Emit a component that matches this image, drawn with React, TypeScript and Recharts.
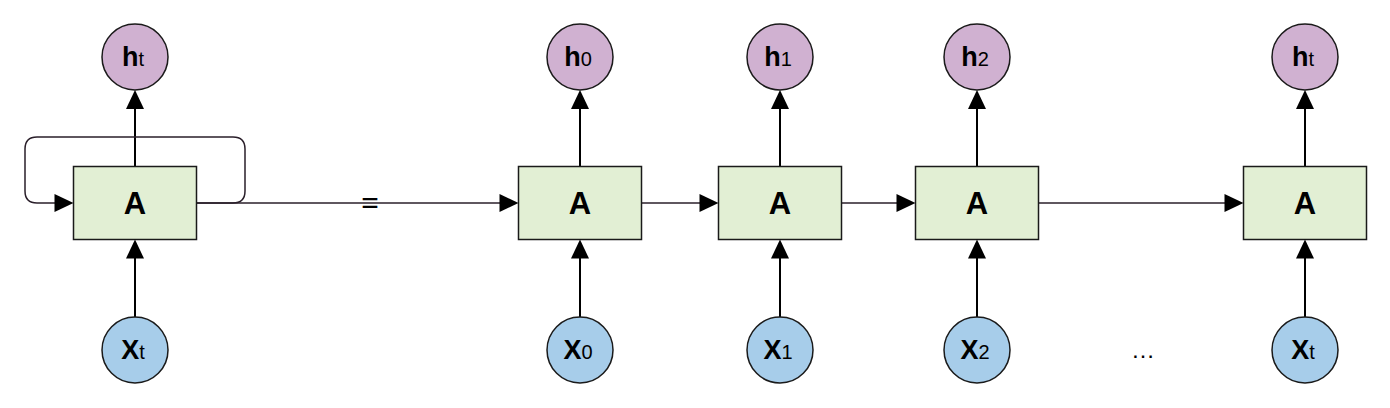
import React from "react";
import { ScatterChart, Scatter, XAxis, YAxis, ReferenceLine } from "recharts";

const cellX = [135, 580, 780, 977, 1305];
const cellSub = ["t", "0", "1", "2", "t"];
const rowH = 57;
const rowBox = 203;
const rowX = 350;
const boxW = 123;
const boxH = 73;
const R = 33;
const chain = [1, 2, 3, 4];
const FONT = "'Liberation Sans', Arial, sans-serif";

const boxes = cellX.map((x) => ({ x, y: rowBox }));
const hNodes = cellX.map((x, i) => ({ x, y: rowH, sub: cellSub[i] }));
const xNodes = cellX.map((x, i) => ({ x, y: rowX, sub: cellSub[i] }));
const upTips = cellX.flatMap((x) => [
  { x, y: rowH + R },
  { x, y: rowBox + boxH / 2 },
]);
const rightTips = [
  { x: cellX[0] - boxW / 2, y: rowBox },
  ...chain.map((i) => ({ x: cellX[i] - boxW / 2, y: rowBox })),
];
const loopAnchor = [{ x: cellX[0], y: rowBox }];
const eqMark = [{ x: 370, y: rowBox }];
const dots = [{ x: 1143, y: rowX }];

const Box = (p: any) => (
  <g>
    <rect x={p.cx - boxW / 2} y={p.cy - boxH / 2} width={boxW} height={boxH} fill="#e2efd4" stroke="#1a1a1a" strokeWidth={1.5} />
    <text x={p.cx} y={p.cy + 11} textAnchor="middle" fontFamily={FONT} fontWeight="bold" fontSize={31} fill="#000">A</text>
  </g>
);
const Node = (fill: string, letter: string) => (p: any) => (
  <g>
    <circle cx={p.cx} cy={p.cy} r={R} fill={fill} stroke="#1a1a1a" strokeWidth={1.5} />
    <text x={p.cx - 2} y={p.cy + 9} textAnchor="middle" fontFamily={FONT} fill="#000">
      <tspan fontWeight="bold" fontSize={27}>{letter}</tspan>
      <tspan fontSize={20}>{p.payload.sub}</tspan>
    </text>
  </g>
);
const UpTip = (p: any) => (
  <path d={`M${p.cx},${p.cy} L${p.cx - 9},${p.cy + 19} L${p.cx + 9},${p.cy + 19} Z`} fill="#000" />
);
const RightTip = (p: any) => (
  <path d={`M${p.cx},${p.cy} L${p.cx - 19},${p.cy - 9} L${p.cx - 19},${p.cy + 9} Z`} fill="#000" />
);
const Loop = (p: any) => {
  const l = p.cx - 110, r = p.cx + 110, t = p.cy - 66, y = p.cy, bl = p.cx - boxW / 2, br = p.cx + boxW / 2, c = 12;
  return (
    <path
      d={`M${br},${y} L${r - c},${y} Q${r},${y} ${r},${y - c} L${r},${t + c} Q${r},${t} ${r - c},${t} L${l + c},${t} Q${l},${t} ${l},${t + c} L${l},${y - c} Q${l},${y} ${l + c},${y} L${bl - 18},${y}`}
      fill="none" stroke="#2a1f2a" strokeWidth={1.5}
    />
  );
};
const Eq = (p: any) => (
  <text x={p.cx} y={p.cy + 10} textAnchor="middle" fontFamily={FONT} fontSize={30} fill="#000">=</text>
);
const Dots = (p: any) => (
  <text x={p.cx} y={p.cy + 8} textAnchor="middle" fontFamily={FONT} fontSize={24} fill="#000">…</text>
);

export default function App() {
  return (
    <div style={{ position: "absolute", left: 0, top: 0, background: "#fff" }}>
      <ScatterChart width={1390} height={408} margin={{ top: 0, right: 0, bottom: 0, left: 0 }}>
        <XAxis type="number" dataKey="x" domain={[0, 1390]} hide />
        <YAxis type="number" dataKey="y" domain={[0, 408]} reversed hide />
        {cellX.map((x) => (
          <ReferenceLine key={"u" + x} segment={[{ x, y: rowX - R }, { x, y: rowBox + boxH / 2 + 10 }]} stroke="#000" strokeWidth={2} ifOverflow="visible" />
        ))}
        {cellX.map((x) => (
          <ReferenceLine key={"v" + x} segment={[{ x, y: rowBox - boxH / 2 }, { x, y: rowH + R + 10 }]} stroke="#000" strokeWidth={2} ifOverflow="visible" />
        ))}
        {chain.map((i) => (
          <ReferenceLine key={"h" + i} segment={[{ x: cellX[i - 1] + boxW / 2, y: rowBox }, { x: cellX[i] - boxW / 2 - 10, y: rowBox }]} stroke="#2a1f2a" strokeWidth={1.5} ifOverflow="visible" />
        ))}
        <Scatter data={loopAnchor} shape={Loop} isAnimationActive={false} />
        <Scatter data={boxes} shape={Box} isAnimationActive={false} />
        <Scatter data={hNodes} shape={Node("#d0b1d1", "h")} isAnimationActive={false} />
        <Scatter data={xNodes} shape={Node("#a7cdea", "X")} isAnimationActive={false} />
        <Scatter data={upTips} shape={UpTip} isAnimationActive={false} />
        <Scatter data={rightTips} shape={RightTip} isAnimationActive={false} />
        <Scatter data={eqMark} shape={Eq} isAnimationActive={false} />
        <Scatter data={dots} shape={Dots} isAnimationActive={false} />
      </ScatterChart>
    </div>
  );
}
